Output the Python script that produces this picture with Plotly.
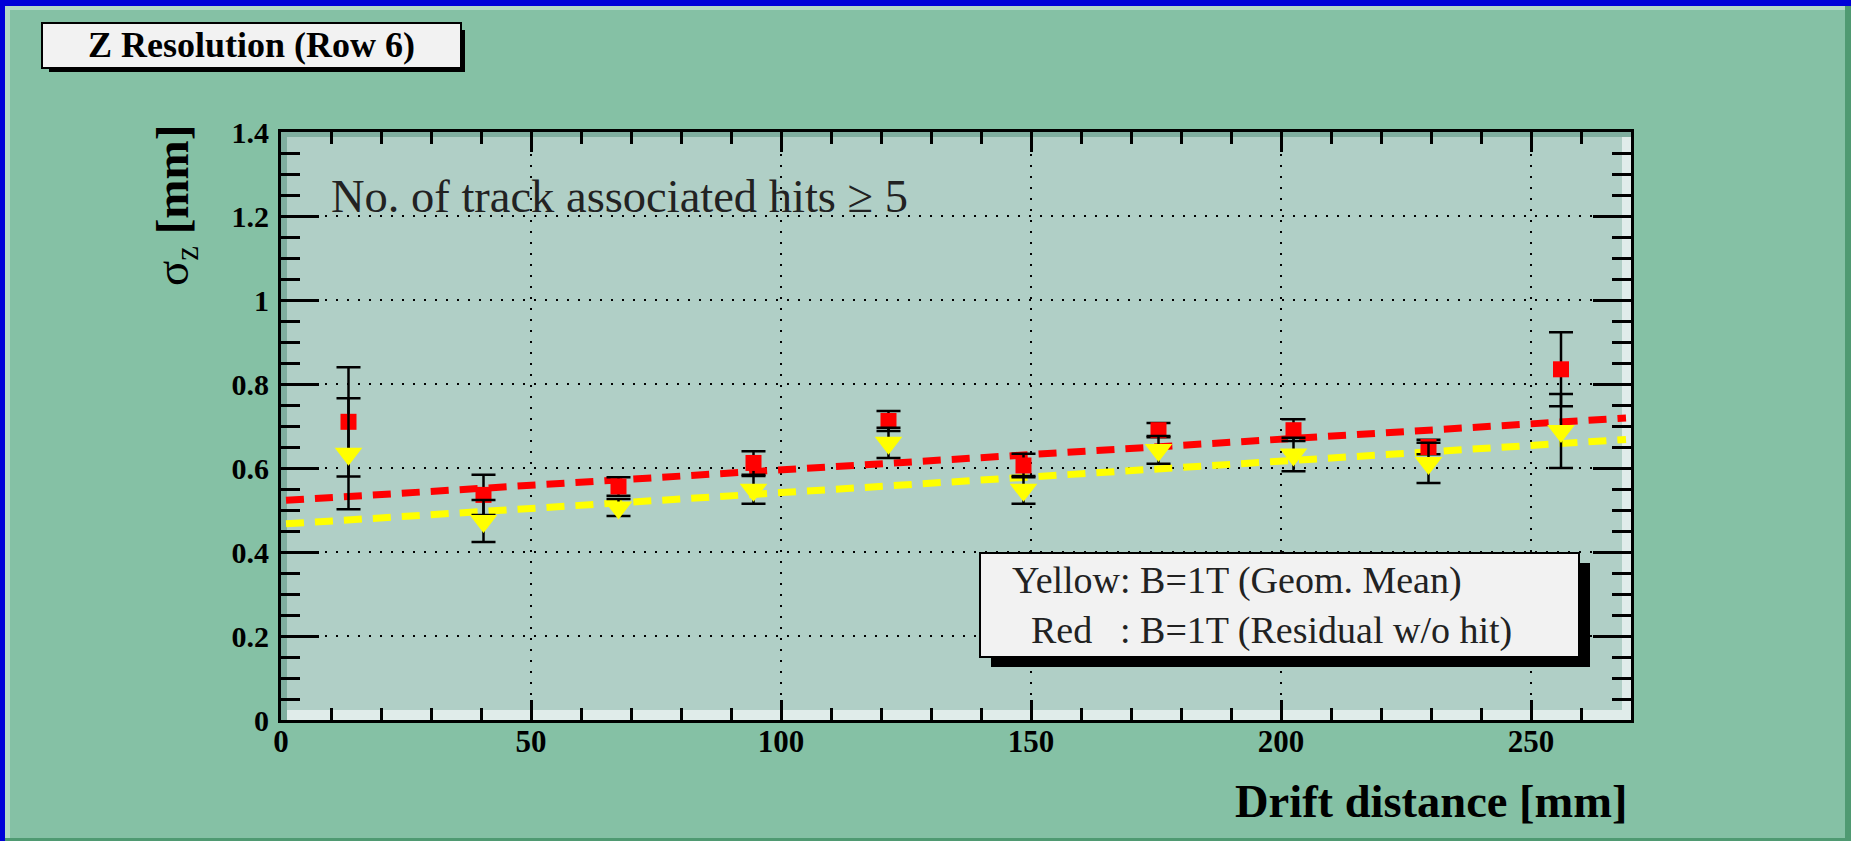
import plotly.graph_objects as go

# ---------------- data ----------------
drift_mm = [13.5, 40.5, 67.5, 94.5, 121.5, 148.5, 175.5, 202.5, 229.5, 256.0]
red_sigma = [0.710, 0.536, 0.556, 0.612, 0.712, 0.606, 0.690, 0.690, 0.650, 0.835]
red_err = [0.130, 0.048, 0.022, 0.028, 0.024, 0.028, 0.017, 0.026, 0.017, 0.088]
yellow_sigma = [0.634, 0.474, 0.506, 0.548, 0.660, 0.548, 0.643, 0.632, 0.612, 0.688]
yellow_err = [0.132, 0.050, 0.020, 0.033, 0.036, 0.033, 0.033, 0.040, 0.048, 0.088]

fit_x = [1.0, 269.0]
red_fit = [0.523, 0.719]
yellow_fit = [0.467, 0.668]

x_ticks = [0, 50, 100, 150, 200, 250]
y_ticks = [0, 0.2, 0.4, 0.6, 0.8, 1.0, 1.2, 1.4]
y_tick_text = ["0", "0.2", "0.4", "0.6", "0.8", "1", "1.2", "1.4"]

title_text = "Z Resolution (Row 6)"
cut_text = "No. of track associated hits ≥ 5"
legend_lines = ["Yellow: B=1T (Geom. Mean)", "Red", ": B=1T (Residual w/o hit)"]
x_title = "Drift distance [mm]"
y_title = "σ<sub>z</sub> <b>[mm]</b>"

# ---------------- layout geometry (pixels) ----------------
W, H = 1851, 841
L, R, T, B = 281, 1631, 132, 720

def px(x):
    return (x - L) / (R - L)

def py(y):
    return (B - y) / (B - T)

GREEN = "#85c1a5"
PLOT_BG = "#b0cfc6"
BLUE = "#0000d8"
SERIF = "Liberation Serif"

fig = go.Figure()

fig.add_trace(go.Scatter(x=fit_x, y=red_fit, mode="lines",
                         line=dict(color="#ff0000", width=7, dash="18px,11px"),
                         hoverinfo="skip", showlegend=False))
fig.add_trace(go.Scatter(x=fit_x, y=yellow_fit, mode="lines",
                         line=dict(color="#ffff00", width=7, dash="18px,11px"),
                         hoverinfo="skip", showlegend=False))
fig.add_trace(go.Scatter(x=drift_mm, y=red_sigma, mode="markers",
                         marker=dict(symbol="square", size=16, color="#ff0000"),
                         error_y=dict(type="data", array=red_err, color="black",
                                      thickness=2.5, width=12),
                         showlegend=False))
fig.add_trace(go.Scatter(x=drift_mm, y=yellow_sigma, mode="markers",
                         marker=dict(symbol="triangle-down", size=24, color="#ffff00"),
                         error_y=dict(type="data", array=yellow_err, color="black",
                                      thickness=2.5, width=12),
                         showlegend=False))

shapes = []

def rect(x0, y0, x1, y1, fill, line=None, layer="above"):
    d = dict(type="rect", xref="paper", yref="paper",
             x0=px(x0), x1=px(x1), y0=py(y1), y1=py(y0),
             fillcolor=fill, layer=layer)
    if line:
        d["line"] = dict(color=line[0], width=line[1])
    else:
        d["line"] = dict(width=0)
    shapes.append(d)

# canvas bevel / blue border
rect(0, 0, W, 6, BLUE)
rect(0, 0, 5, H, BLUE)
rect(5, 6, W - 6, 10, "#b3d8c6")
rect(5, 6, 10, H - 3, "#b3d8c6")
rect(W - 6, 6, W, H, "#4f9a72")
rect(5, H - 3, W, H, "#4f9a72")

# frame bevel inside plot area
rect(L, T, L + 6, B, "#7fae9f", layer="below")
rect(L, T, R, T + 5, "#7fae9f", layer="below")
rect(L + 6, B - 10, R, B, "#e0ecea", layer="below")
rect(R - 9, T + 5, R, B, "#e0ecea", layer="below")

# title box with shadow
rect(49, 30, 465, 72, "black")
rect(42, 23, 461, 68, "#f2f2f2", line=("black", 2))

# legend box with shadow
rect(991, 563, 1590, 667, "black")
rect(980, 553, 1579, 657, "#f2f2f2", line=("black", 2))

annotations = [
    dict(text="<b>" + title_text + "</b>", x=px(251), y=py(45),
         font=dict(family=SERIF, size=36, color="black")),
    dict(text=cut_text, x=px(329), y=py(197), xanchor="left",
         font=dict(family=SERIF, size=46.5, color="#222222")),
    dict(text=legend_lines[0], x=px(1010), y=py(580), xanchor="left",
         font=dict(family=SERIF, size=38, color="#222222")),
    dict(text=legend_lines[1], x=px(1029), y=py(630), xanchor="left",
         font=dict(family=SERIF, size=38, color="#222222")),
    dict(text=legend_lines[2], x=px(1118), y=py(630), xanchor="left",
         font=dict(family=SERIF, size=38, color="#222222")),
    dict(text="<b>" + x_title + "</b>", x=px(1630), y=py(801), xanchor="right",
         font=dict(family=SERIF, size=46.5, color="black")),
    dict(text=y_title, x=px(175), y=py(206), textangle=-90,
         font=dict(family=SERIF, size=47, color="black")),
]
for a in annotations:
    a.setdefault("xanchor", "center")
    a.setdefault("yanchor", "middle")
    a.update(xref="paper", yref="paper", showarrow=False)

fig.update_layout(
    width=W, height=H, autosize=False,
    margin=dict(l=L, r=W - R, t=T, b=H - B, pad=0),
    paper_bgcolor=GREEN, plot_bgcolor=PLOT_BG,
    shapes=shapes, annotations=annotations,
    showlegend=False,
)

fig.update_xaxes(
    range=[0, 270], tickvals=x_ticks, ticktext=[str(v) for v in x_ticks],
    ticks="inside", ticklen=20, tickwidth=2.5, tickcolor="black",
    minor=dict(dtick=10, ticks="inside", ticklen=12, tickwidth=2.5, tickcolor="black", showgrid=False),
    showline=True, linecolor="black", linewidth=3, mirror="ticks",
    showgrid=True, gridcolor="black", gridwidth=2, griddash="2px,9px",
    zeroline=False,
    tickfont=dict(family=SERIF, size=31, color="black", weight="bold"),
    ticklabelstandoff=-8,
)
fig.update_yaxes(
    range=[0, 1.4], tickvals=y_ticks, ticktext=y_tick_text,
    ticks="inside", ticklen=38, tickwidth=2.5, tickcolor="black",
    minor=dict(dtick=0.05, ticks="inside", ticklen=19, tickwidth=2.5, tickcolor="black", showgrid=False),
    showline=True, linecolor="black", linewidth=3, mirror="ticks",
    showgrid=True, gridcolor="black", gridwidth=2, griddash="2px,9px",
    zeroline=False,
    tickfont=dict(family=SERIF, size=30, color="black", weight="bold"),
    ticklabelstandoff=3,
)

fig.write_html("out.html")
